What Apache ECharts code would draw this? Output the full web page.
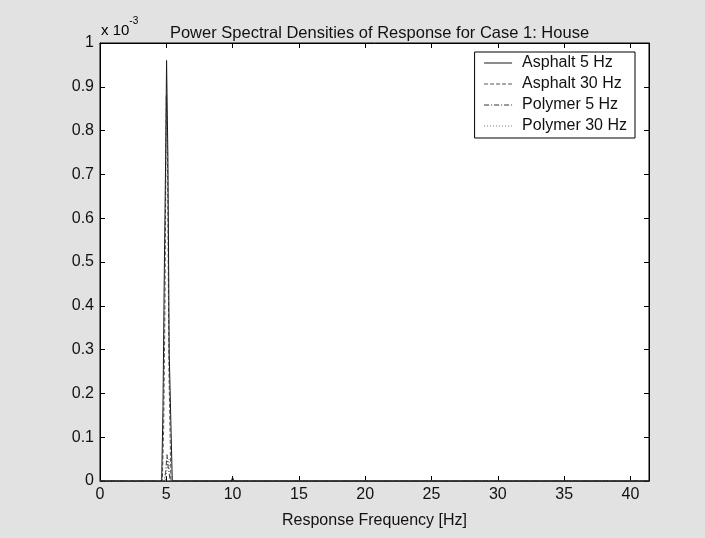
<!DOCTYPE html>
<html>
<head>
<meta charset="utf-8">
<title>Power Spectral Densities of Response for Case 1: House</title>
<script src="https://cdn.jsdelivr.net/npm/echarts@6/dist/echarts.min.js"></script>
<style>
  html, body { margin: 0; padding: 0; background: #e2e2e2; }
  #chart { width: 705px; height: 538px; }
</style>
</head>
<body>
<div id="chart"></div>
<script>
// PSD values are stored in units of 1e-3 (see the "x 10^-3" axis multiplier)
const titleText = 'Power Spectral Densities of Response for Case 1: House';
const xAxisName = 'Response Frequency [Hz]';
const seriesNames = ['Asphalt 5 Hz', 'Asphalt 30 Hz', 'Polymer 5 Hz', 'Polymer 30 Hz'];
const xTicks = [0, 5, 10, 15, 20, 25, 30, 35, 40];
const yTicks = [0, 0.1, 0.2, 0.3, 0.4, 0.5, 0.6, 0.7, 0.8, 0.9, 1];

// frequency [Hz], psd [1e-3]
const asphalt5Freq = [0, 4.65, 4.75, 4.85, 4.95, 5.02, 5.12, 5.22, 5.45, 9.9, 10.0, 10.1, 41.4];
const asphalt5Psd  = [0, 0,    0.17, 0.48, 0.74, 0.96, 0.74, 0.29, 0,    0,   0.008, 0,   0];

const asphalt30Freq = [0, 4.7, 4.8, 4.9, 5.0, 5.1, 5.2, 5.35, 41.4];
const asphalt30Psd  = [0, 0,   0.12, 0.40, 0.88, 0.70, 0.25, 0, 0];

const polymer5Freq = [0, 4.85, 4.95, 5.05, 5.15, 5.3, 41.4];
const polymer5Psd  = [0, 0,    0.02, 0.06, 0.03, 0, 0];

const polymer30Freq = [0, 4.9, 5.0, 5.1, 5.2, 5.3, 5.4, 41.4];
const polymer30Psd  = [0, 0,   0.015, 0.04, 0.05, 0.01, 0, 0];

const seriesFreqs = [asphalt5Freq, asphalt30Freq, polymer5Freq, polymer30Freq];
const seriesPsds = [asphalt5Psd, asphalt30Psd, polymer5Psd, polymer30Psd];
const lineStyles = [
  { color: '#1a1a1a', width: 1, type: 'solid' },
  { color: '#555555', width: 1, type: [4, 2] },
  { color: '#333333', width: 1, type: [5, 2, 1, 2] },
  { color: '#777777', width: 1, type: [1, 2] }
];

const font = 'Liberation Sans, Arial, sans-serif';
const fs = 16;
const gridBox = { left: 100, right: 56, top: 43, bottom: 57 };
const xMin = 0, xMax = 41.4, yMin = 0, yMax = 1;
const plotCenterX = gridBox.left + (705 - gridBox.left - gridBox.right) / 2;

const chart = echarts.init(document.getElementById('chart'));

function baseAxis(extra) {
  return Object.assign({
    type: 'value',
    axisLine: { show: true, onZero: false, lineStyle: { color: '#000', width: 1 } },
    axisTick: { show: true, inside: true, length: 5, lineStyle: { color: '#000' } },
    splitLine: { show: false }
  }, extra);
}

const option = {
  backgroundColor: '#e2e2e2',
  animation: false,
  title: {
    text: titleText,
    left: plotCenterX,
    textAlign: 'center',
    top: 19,
    textStyle: { fontFamily: font, fontSize: 16.5, fontWeight: 'normal', color: '#111', lineHeight: 18 }
  },
  graphic: [{
    type: 'text',
    left: 101,
    top: 16,
    style: {
      text: '{b|x 10}{s|-3}',
      rich: {
        b: { fontFamily: font, fontSize: 15, color: '#111', verticalAlign: 'bottom', padding: [7, 0, 0, 0] },
        s: { fontFamily: font, fontSize: 10, color: '#111', verticalAlign: 'top' }
      }
    }
  }],
  legend: {
    data: seriesNames,
    orient: 'vertical',
    right: 705 - 635,
    top: 52,
    itemWidth: 28,
    itemHeight: 16,
    itemGap: 5,
    backgroundColor: '#fff',
    borderColor: '#000',
    borderWidth: 1,
    borderRadius: 0,
    padding: [3, 8, 4, 9],
    itemStyle: { opacity: 0 },
    lineStyle: { width: 1 },
    textStyle: { fontFamily: font, fontSize: fs, color: '#111', padding: [0, 0, 0, 5] }
  },
  grid: Object.assign({ show: true, backgroundColor: '#fff', borderColor: '#000', borderWidth: 1, containLabel: false }, gridBox),
  xAxis: [
    baseAxis({
      position: 'bottom', min: xMin, max: xMax, interval: 5,
      name: xAxisName, nameLocation: 'middle', nameGap: 32,
      nameTextStyle: { fontFamily: font, fontSize: fs, color: '#111' },
      axisLine: { show: true, onZero: false, lineStyle: { color: '#333', width: 1 } },
      axisLabel: {
        fontFamily: font, fontSize: fs, color: '#111', margin: 6, showMaxLabel: false,
        formatter: v => (xTicks.indexOf(v) >= 0 ? String(v) : '')
      }
    }),
    baseAxis({
      position: 'top', min: xMin, max: xMax, interval: 5,
      axisLabel: { show: false }
    })
  ],
  yAxis: [
    baseAxis({
      position: 'left', min: yMin, max: yMax, interval: 0.1,
      axisLabel: {
        fontFamily: font, fontSize: fs, color: '#111', margin: 6,
        formatter: v => {
          const t = yTicks.find(k => Math.abs(k - v) < 1e-9);
          return t === undefined ? '' : String(t);
        }
      }
    }),
    baseAxis({
      position: 'right', min: yMin, max: yMax, interval: 0.1,
      axisLabel: { show: false }
    })
  ],
  series: seriesNames.map((name, i) => ({
    name: name,
    type: 'line',
    xAxisIndex: 0,
    yAxisIndex: 0,
    symbol: 'none',
    showSymbol: false,
    clip: true,
    lineStyle: lineStyles[i],
    itemStyle: { color: lineStyles[i].color },
    data: seriesFreqs[i].map((f, j) => [f, seriesPsds[i][j]])
  })).reverse()
};

chart.setOption(option);
</script>
</body>
</html>
